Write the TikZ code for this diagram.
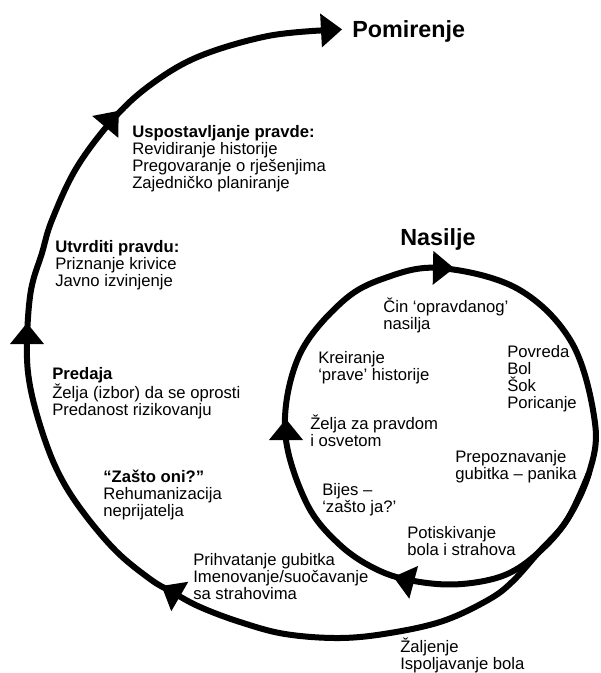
\documentclass[tikz,border=0pt]{standalone}
\usepackage{fontspec}
\setmainfont{Liberation Sans}
\newcommand\arrowhd[3]{\fill[shift={(#1,#2)}, rotate=#3] (12,0) -- (-9,17) -- (-9,-17) -- cycle;}
\newcommand\tstr{\rule{0pt}{12pt}}
\begin{document}
\begin{tikzpicture}[x=0.75pt, y=-0.75pt,
  curve/.style={line width=4.5pt, line join=round},
  lbl/.style={anchor=north west, inner sep=0pt, align=left, font=\fontsize{12.5pt}{12.75pt}\selectfont},
  hdr/.style={anchor=base west, inner sep=0pt, font=\fontsize{17.5pt}{20pt}\selectfont\bfseries}]
\useasboundingbox (0,0) rectangle (600,673);
\fill[white] (0,0) rectangle (600,673);

% inner loop (Nasilje)
\draw[curve] plot[smooth cycle, tension=0.6] coordinates {(440,268) (518,289) (572,343) (595,423) (589,473) (567,520) (538,553) (505,575) (462,584) (420,582) (380,571) (340,545) (306,502) (285,430) (299,356) (342,302) (385,278)};

% outer spiral (to Pomirenje)
\draw[curve] plot[smooth, tension=0.6] coordinates {(589,473) (567,520) (538,553) (512,582) (488,600) (443,621) (390,633) (340,638) (285,634) (240,622) (200,607) (172,592) (150,579) (115,550) (80,508) (57,470) (40,425) (29,380) (27,340) (31,290) (42,253) (52,220) (77,167) (115,117) (153,83) (200,56) (268,36) (330,30)};

% arrow heads
\arrowhd{330}{30}{3}
\arrowhd{111}{120}{50}
\arrowhd{27}{335}{90}
\arrowhd{172}{592}{150}
\arrowhd{442}{268}{-1}
\arrowhd{286}{431}{90}
\arrowhd{405}{580}{165}

% headings
\node[hdr] (pom) at (352,38) {Pomirenje};
\node[hdr] (nas) at (400,245) {Nasilje};

% outer labels
\node[lbl] (usp) at (132,121) {\tstr\textbf{Uspostavljanje pravde:}\\Revidiranje historije\\Pregovaranje o rješenjima\\Zajedničko planiranje};
\node[lbl] (utv) at (55,236) {\tstr\textbf{Utvrditi pravdu:}\\Priznanje krivice\\Javno izvinjenje};
\node[lbl] (pred) at (52,363) {\tstr\textbf{Predaja}\\Želja (izbor) da se oprosti\\Predanost rizikovanju};
\node[lbl] (zas) at (103,466) {\tstr\textbf{“Zašto oni?”}\\Rehumanizacija\\neprijatelja};
\node[lbl] (prih) at (193,549) {\tstr Prihvatanje gubitka\\Imenovanje/suočavanje\\sa strahovima};
\node[lbl] (zal) at (400,636) {\tstr Žaljenje\\Ispoljavanje bola};

% inner labels
\node[lbl] (cin) at (383,296) {\tstr Čin ‘opravdanog’\\nasilja};
\node[lbl] (kre) at (318,347) {\tstr Kreiranje\\‘prave’ historije};
\node[lbl] (pov) at (507,341) {\tstr Povreda\\Bol\\Šok\\Poricanje};
\node[lbl] (zel) at (310,413) {\tstr Želja za pravdom\\i osvetom};
\node[lbl] (prep) at (455,446) {\tstr Prepoznavanje\\gubitka – panika};
\node[lbl] (bij) at (322,479) {\tstr Bijes –\\‘zašto ja?’};
\node[lbl] (pot) at (407,522) {\tstr Potiskivanje\\bola i strahova};
\end{tikzpicture}
\end{document}
